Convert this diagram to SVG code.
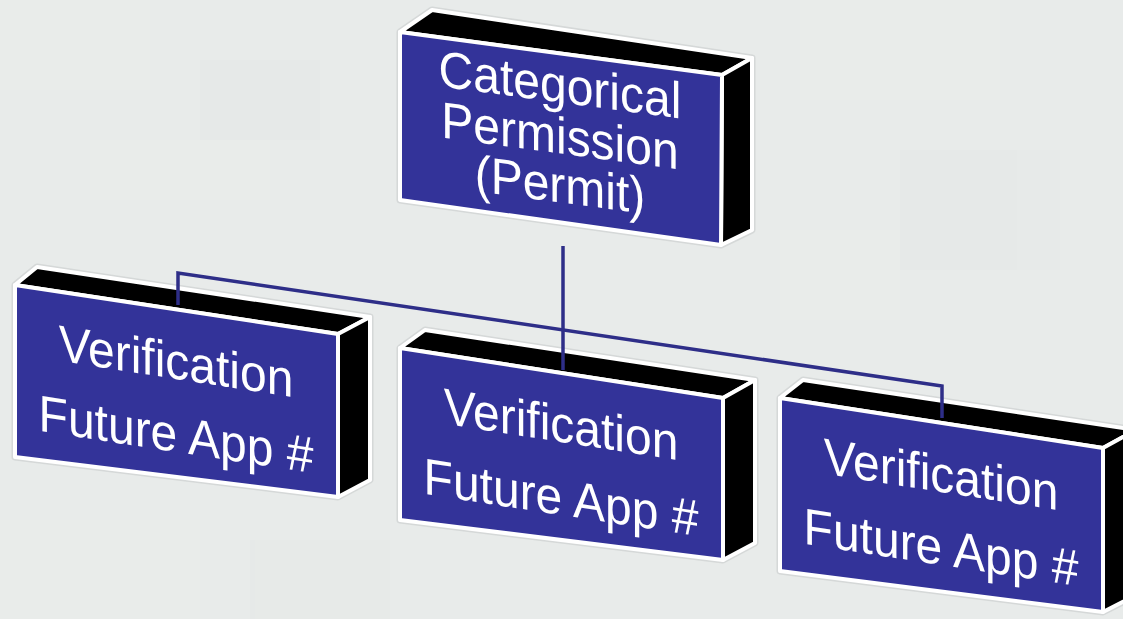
<svg xmlns="http://www.w3.org/2000/svg" width="1123" height="619" viewBox="0 0 1123 619">
  <style>
    .front { fill: #333399; stroke: #ffffff; stroke-width: 4; stroke-linejoin: round; }
    .side { fill: #000000; stroke: #ffffff; stroke-width: 4; stroke-linejoin: round; }
    .outline { fill: none; stroke: #c8cccb; stroke-width: 7; stroke-linejoin: round; opacity: 0.6; }
    .label { font-family: "Liberation Sans", Arial, sans-serif; font-size: 48px; fill: #ffffff; text-anchor: middle; }
    .conn { fill: none; stroke: #2e2e88; stroke-width: 3.5; stroke-linejoin: miter; }
  </style>
  <rect x="0" y="0" width="1123" height="619" fill="#e8ebea"/>
  <g opacity="0.35">
    <rect x="0" y="0" width="150" height="90" fill="#eceeec"/>
    <rect x="200" y="60" width="120" height="80" fill="#e4e8e7"/>
    <rect x="90" y="140" width="180" height="60" fill="#eceeec"/>
    <rect x="800" y="0" width="200" height="100" fill="#eceeec"/>
    <rect x="900" y="150" width="160" height="120" fill="#e4e8e7"/>
    <rect x="780" y="230" width="120" height="90" fill="#eceeec"/>
    <rect x="0" y="520" width="200" height="99" fill="#eceeec"/>
    <rect x="250" y="540" width="140" height="79" fill="#e4e8e6"/>
  </g>

  <g id="node-permit" transform="translate(400,32)">
    <polygon class="outline" points="0,0 32,-22 352,26 352,198 321,213 0,168"/>
    <polygon class="side" points="0,0 32,-22 352,26 322,43"/>
    <polygon class="side" points="322,43 352,26 352,198 321,213"/>
    <polygon class="front" points="0,0 322,43 321,213 0,168"/>
    <g transform="matrix(1,0.1335,0,1.07,0,0)">
      <text class="label" x="160" y="45.8">Categorical</text>
      <text class="label" x="160" y="93.5">Permission</text>
      <text class="label" x="160" y="139.3">(Permit)</text>
    </g>
  </g>

  <g id="node-left" transform="translate(15,285)">
    <polygon class="outline" points="0,0 22,-18 355,32 355,195 323,212 0,172"/>
    <polygon class="side" points="0,0 22,-18 355,32 323,49"/>
    <polygon class="side" points="323,49 355,32 355,195 323,212"/>
    <polygon class="front" points="0,0 323,49 323,212 0,172"/>
    <g transform="matrix(1,0.1548,0,1.07,0,0)">
      <text class="label" x="161" y="64.5">Verification</text>
      <text class="label" x="161" y="132.7">Future App #</text>
    </g>
  </g>

  <g id="node-middle" transform="translate(400,348)">
    <polygon class="outline" points="0,0 25,-18 355,32 355,195 323,212 0,172"/>
    <polygon class="side" points="0,0 25,-18 355,32 323,50"/>
    <polygon class="side" points="323,50 355,32 355,195 323,212"/>
    <polygon class="front" points="0,0 323,50 323,212 0,172"/>
    <g transform="matrix(1,0.1548,0,1.07,0,0)">
      <text class="label" x="161" y="64.5">Verification</text>
      <text class="label" x="161" y="132.7">Future App #</text>
    </g>
  </g>

  <g id="node-right" transform="translate(780,398)">
    <polygon class="outline" points="0,0 23,-18 356,32 356,197 323,214 0,173"/>
    <polygon class="side" points="0,0 23,-18 356,32 323,50"/>
    <polygon class="side" points="323,50 356,32 356,197 323,214"/>
    <polygon class="front" points="0,0 323,50 323,214 0,173"/>
    <g transform="matrix(1,0.1548,0,1.07,0,0)">
      <text class="label" x="161" y="64.5">Verification</text>
      <text class="label" x="161" y="132.7">Future App #</text>
    </g>
  </g>

  <g id="connectors">
    <path class="conn" d="M563,246 L563,370"/>
    <path class="conn" d="M178,305 L178,273 L942,386 L942,418"/>
  </g>
</svg>
